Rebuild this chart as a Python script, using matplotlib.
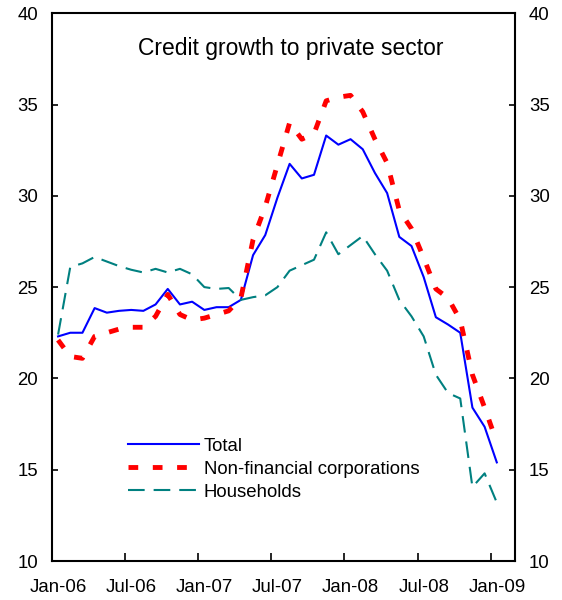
import matplotlib
matplotlib.use('Agg')
import matplotlib.pyplot as plt
import numpy as np

plt.rcParams['font.family'] = ['Liberation Sans', 'DejaVu Sans']

# 月度數據: 2006年1月 - 2009年1月
tick_labels = ['Jan-06', 'Jul-06', 'Jan-07', 'Jul-07', 'Jan-08', 'Jul-08', 'Jan-09']
total = [22.3, 22.5, 22.5, 23.85, 23.6, 23.7, 23.75, 23.7, 24.05, 24.9, 24.05, 24.2,
         23.75, 23.9, 23.9, 24.3, 26.75, 27.85, 29.9, 31.75, 30.95, 31.15, 33.3, 32.8,
         33.1, 32.55, 31.25, 30.15, 27.75, 27.25, 25.55, 23.35, 22.95, 22.5, 18.4, 17.35,
         15.4]
nfc = [22.1, 21.2, 21.1, 22.3, 22.5, 22.7, 22.8, 22.8, 23.4, 24.6, 23.5, 23.2,
       23.3, 23.5, 23.7, 24.4, 27.6, 29.4, 31.7, 34.0, 33.1, 33.4, 35.2, 35.4,
       35.5, 34.6, 33.1, 31.8, 29.2, 28.2, 26.6, 24.9, 24.4, 23.2, 20.2, 18.4,
       16.5]
households = [22.4, 26.1, 26.3, 26.65, 26.4, 26.15, 25.95, 25.8, 26.0, 25.8, 26.0, 25.7,
              25.0, 24.9, 24.95, 24.3, 24.45, 24.55, 25.0, 25.9, 26.2, 26.5, 28.0, 26.8,
              27.3, 27.8, 26.8, 25.9, 24.3, 23.4, 22.3, 20.2, 19.2, 18.9, 14.05, 14.8,
              13.2]

x = np.arange(len(total)) + 0.5

fig = plt.figure(figsize=(5.62, 6.0), dpi=100)
ax = fig.add_axes([0.0925, 0.065, 0.824, 0.913])

ax.plot(x, total, color='#0000FF', lw=1.5, label='Total')
ax.plot(x, nfc, color='#FF0000', lw=3.5, dashes=(2, 3), label='Non-financial corporations')
ax.plot(x, households, color='#008080', lw=1.5, dashes=(8, 4.3), label='Households')

ax.set_xlim(0, 38)
ax.set_ylim(10, 40)
ax.set_yticks(np.arange(10, 41, 5))

# 主刻度在月份邊界, 標籤在月中
major = np.arange(0, 37, 6)
ax.set_xticks(major)
ax.set_xticklabels([])
ax.set_xticks(major + 0.5, minor=True)
ax.set_xticklabels(tick_labels, minor=True)

ax.tick_params(axis='x', which='major', direction='in', length=5.5, width=1.2)
ax.tick_params(axis='x', which='minor', length=0, pad=13, labelsize=13.4)
ax.tick_params(axis='y', direction='in', length=4.5, width=1.2, pad=10,
               labelsize=13.4, right=True, labelright=True)

for s in ax.spines.values():
    s.set_linewidth(1.5)

ax.text(0.516, 0.936, 'Credit growth to private sector', transform=ax.transAxes,
        ha='center', va='center', fontsize=16.5)

ax.legend(loc='upper left', bbox_to_anchor=(0.164, 0.225), frameon=False,
          fontsize=13.4, handlelength=3.8, handletextpad=0.27,
          labelspacing=0.32, borderpad=0, borderaxespad=0)

plt.savefig('out.png', dpi=100)
plt.close()
